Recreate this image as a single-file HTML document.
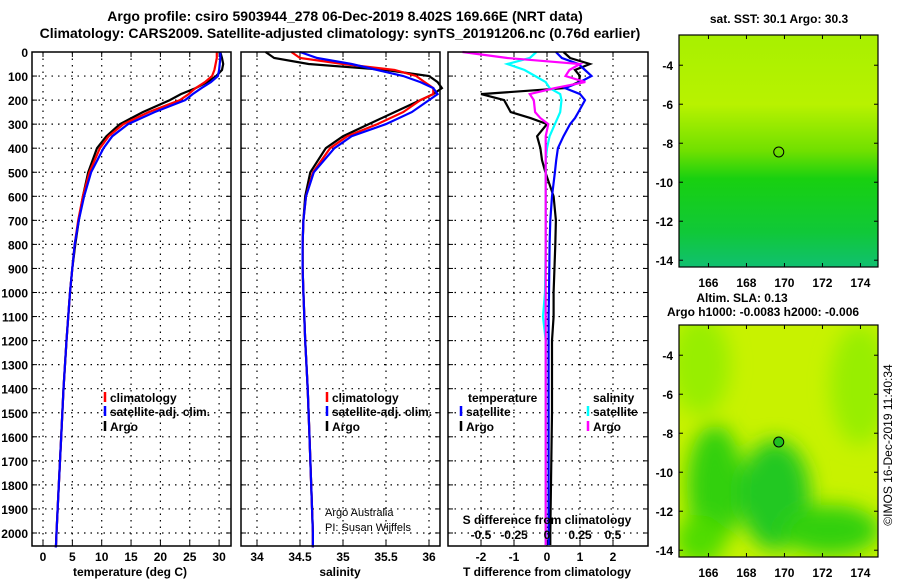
<!DOCTYPE html>
<html><head><meta charset="utf-8">
<style>
body{margin:0;background:#fff;}
svg{display:block;font-family:"Liberation Sans",sans-serif;font-weight:bold;}
</style></head>
<body>
<svg id="chart" width="900" height="580" viewBox="0 0 900 580" xmlns="http://www.w3.org/2000/svg">
<defs>
<linearGradient id="sstgrad" x1="0" y1="0" x2="0" y2="1">
<stop offset="0" stop-color="#a8f000"/><stop offset="0.3" stop-color="#b8f200"/><stop offset="0.5" stop-color="#70e000"/><stop offset="0.62" stop-color="#18d010"/><stop offset="0.85" stop-color="#10c838"/><stop offset="1" stop-color="#10c070"/>
</linearGradient>
<filter id="blur" x="-50%" y="-50%" width="200%" height="200%"><feGaussianBlur stdDeviation="10"/></filter>
<clipPath id="clip2"><rect x="679" y="325" width="199" height="232"/></clipPath>
</defs>
<g id="layer"></g>
</svg>
<script>
const depths=[0,25,50,75,100,125,150,175,200,250,300,350,400,500,600,700,800,900,1000,1200,1400,1600,1800,2000,2060];
const tempClim=[29.6,29.6,29.4,29.2,28.8,27.6,26,24.8,23.3,18,13.7,11.2,9.7,7.9,6.8,6,5.4,5,4.6,4,3.5,3.1,2.7,2.3,2.2];
const tempSat=[30.2,30.2,30.1,30,29.8,28.6,27,25.5,24.2,19,14.5,11.8,10.3,8.2,7,6.1,5.4,5,4.6,4,3.5,3.1,2.7,2.3,2.2];
const tempArgo=[30.2,30.5,30.7,30.5,29.5,28,26,23.5,21.6,17,13.1,10.8,9.2,7.7,6.8,6.1,5.5,5,4.6,4,3.5,3.1,2.7,2.3,2.2];
const salClim=[34.4,34.5,35.0,35.6,35.85,35.95,36.05,36.05,35.9,35.7,35.4,35.05,34.85,34.65,34.57,34.54,34.53,34.53,34.54,34.56,34.59,34.61,34.63,34.65,34.65];
const salSat=[34.5,34.7,35.1,35.4,35.7,35.9,36.05,36.1,36.0,35.8,35.5,35.1,34.9,34.66,34.57,34.54,34.53,34.53,34.54,34.56,34.59,34.61,34.63,34.65,34.65];
const salArgo=[34.1,34.2,34.6,35.5,36.0,36.1,36.15,36.05,35.9,35.6,35.3,35.0,34.8,34.62,34.56,34.54,34.53,34.53,34.54,34.56,34.59,34.61,34.63,34.65,34.65];
const dDepths=[0,25,50,75,100,125,150,175,200,250,275,300,350,400,450,500,600,700,800,1000,1100,1200,1500,2000,2050];
const tDiffArgo=[0.5,0.7,1.3,0.85,1.0,0.95,0.55,-2.0,-1.3,-1.1,-0.5,0,-0.3,-0.2,-0.15,-0.05,0.2,0.27,0.25,0.2,0.2,0.15,0.15,0.1,0.1];
const tDiffSat=[0.27,0.45,0.95,1.15,1.35,1.0,0.55,1.0,1.15,0.95,0.85,0.7,0.5,0.33,0.28,0.24,0.15,0.1,0.08,0.06,0.05,0.05,0.05,0.05,0.05];
const sDiffSat=[-0.08,-0.13,-0.3,-0.17,-0.09,-0.01,0.02,0.1,0.11,0.1,0.08,0.06,0.02,0,-0.01,-0.01,-0.01,-0.01,-0.01,-0.015,-0.03,-0.01,-0.01,-0.01,-0.01];
const sDiffArgo=[-0.64,-0.3,0.25,0.17,0.14,0.29,0.06,-0.13,-0.1,-0.09,-0.05,0.01,-0.01,-0.01,-0.01,-0.01,-0.01,-0.01,-0.01,-0.01,-0.01,-0.01,-0.01,-0.01,-0.01];
const depthTicks=[0,100,200,300,400,500,600,700,800,900,1000,1100,1200,1300,1400,1500,1600,1700,1800,1900,2000];
const tempTicks=[0,5,10,15,20,25,30];
const salTicks=[34,34.5,35,35.5,36];
const tdTicks=[-2,-1,0,1,2];
const sdTicks=[-0.5,-0.25,0,0.25,0.5];
const sdTickLabels=["-0.5","-0.25","0","0.25","0.5"];
const lonTicks=[166,168,170,172,174];
const latTicks=[-4,-6,-8,-10,-12,-14];
const floatLon=169.7, floatLat=-8.45;

const NS="http://www.w3.org/2000/svg";
const L=document.getElementById('layer');
function el(tag,attrs,parent){const e=document.createElementNS(NS,tag);for(const k in attrs)e.setAttribute(k,attrs[k]);(parent||L).appendChild(e);return e;}
function txt(s,x,y,size,anchor,name,parent){const t=el('text',{x:x,y:y,'font-size':size,'text-anchor':anchor||'middle',fill:'#000'},parent);t.textContent=s;


return t;}

const TOP=52,BOT=546;
const yD=d=>TOP+d*0.2405;
const xT=v=>43+v*5.87;
const xS=v=>257+(v-34)*86;
const xTD=v=>547+v*33;
const xSD=v=>547+v*132;

function panel(name){
  const g=el('g',{});
  
  
  return g;
}
function frame(g,x0,x1){el('rect',{x:x0,y:TOP,width:x1-x0,height:BOT-TOP,fill:'none',stroke:'#000','stroke-width':1.5},g);}
function hgrid(g,x0,x1){depthTicks.forEach(d=>{if(d>0){el('line',{x1:x0,x2:x1,y1:yD(d),y2:yD(d),stroke:'#000','stroke-dasharray':'1.5 5','stroke-width':1.2},g);}
el('line',{x1:x0,x2:x0+5,y1:yD(d),y2:yD(d),stroke:'#000'},g);el('line',{x1:x1-5,x2:x1,y1:yD(d),y2:yD(d),stroke:'#000'},g);});}
function vgrid(g,vals,fx){vals.forEach(v=>{el('line',{x1:fx(v),x2:fx(v),y1:TOP,y2:BOT,stroke:'#000','stroke-dasharray':'1.5 5','stroke-width':1.2},g);
el('line',{x1:fx(v),x2:fx(v),y1:BOT-5,y2:BOT,stroke:'#000'},g);el('line',{x1:fx(v),x2:fx(v),y1:TOP,y2:TOP+5,stroke:'#000'},g);});}
function line(g,xs,ds,fx,color,name,w){const p=xs.map((v,i)=>fx(v).toFixed(1)+','+yD(ds[i]).toFixed(1)).join(' ');
const pl=el('polyline',{points:p,fill:'none',stroke:color,'stroke-width':w||2.2},g);

}
function legend(g,x,y,color,label,name){el('line',{x1:x,x2:x,y1:y-10,y2:y,stroke:color,'stroke-width':2.5},g);txt(label,x+5,y,12,'start',name,g);}

txt("Argo profile: csiro 5903944_278 06-Dec-2019 8.402S 169.66E (NRT data)",345,21,14,'middle','title-line-1');
txt("Climatology: CARS2009. Satellite-adjusted climatology: synTS_20191206.nc (0.76d earlier)",340,38,14,'middle','title-line-2');

depthTicks.forEach(d=>txt(String(d),28,yD(d)+5,12,'end','depth-tick-label'));

const g1=panel('temperature-panel');
hgrid(g1,32,231);vgrid(g1,tempTicks,xT);
line(g1,tempArgo,depths,xT,'#000','temp-argo-line');
line(g1,tempClim,depths,xT,'#f00','temp-climatology-line');
line(g1,tempSat,depths,xT,'#00f','temp-satellite-line');
frame(g1,32,231);
tempTicks.forEach(v=>txt(String(v),xT(v),561,12,'middle','temp-tick-label',g1));
txt("temperature (deg C)",130,576,12,'middle','temperature-axis-title',g1);
legend(g1,105,402,'#f00','climatology','legend-climatology');
legend(g1,105,416,'#00f','satellite-adj. clim.','legend-satellite');
legend(g1,105,431,'#000','Argo','legend-argo');

const g2=panel('salinity-panel');
hgrid(g2,241,440);vgrid(g2,salTicks,xS);
line(g2,salArgo,depths,xS,'#000','sal-argo-line');
line(g2,salClim,depths,xS,'#f00','sal-climatology-line');
line(g2,salSat,depths,xS,'#00f','sal-satellite-line');
frame(g2,241,440);
salTicks.forEach(v=>txt(String(v),xS(v),561,12,'middle','sal-tick-label',g2));
txt("salinity",340,576,12,'middle','salinity-axis-title',g2);
legend(g2,327,402,'#f00','climatology','legend-sal-climatology');
legend(g2,327,416,'#00f','satellite-adj. clim.','legend-sal-satellite');
legend(g2,327,431,'#000','Argo','legend-sal-argo');
const a1=txt("Argo Australia",325,516,11,'start','credit-argo-australia',g2);a1.setAttribute('font-weight','normal');
const a2=txt("PI: Susan Wijffels",325,531,11,'start','credit-pi',g2);a2.setAttribute('font-weight','normal');

const g3=panel('difference-panel');
hgrid(g3,448,648);vgrid(g3,tdTicks,xTD);
line(g3,tDiffArgo,dDepths,xTD,'#000','tdiff-argo-line');
line(g3,tDiffSat,dDepths,xTD,'#00f','tdiff-satellite-line');
line(g3,sDiffSat,dDepths,xSD,'#0ff','sdiff-satellite-line');
line(g3,sDiffArgo,dDepths,xSD,'#f0f','sdiff-argo-line');
frame(g3,448,648);
tdTicks.forEach(v=>txt(String(v),xTD(v),561,12,'middle','tdiff-tick-label',g3));
sdTicks.forEach((v,i)=>txt(sdTickLabels[i],xSD(v),539,12,'middle','sdiff-tick-label',g3));
txt("S difference from climatology",547,524,12,'middle','sdiff-axis-title',g3);
txt("T difference from climatology",547,576,12,'middle','tdiff-axis-title',g3);
txt("temperature",468,402,12,'start','legend-temperature-header',g3);
legend(g3,461,416,'#00f','satellite','legend-tdiff-satellite');
legend(g3,461,431,'#000','Argo','legend-tdiff-argo');
txt("salinity",593,402,12,'start','legend-salinity-header',g3);
legend(g3,588,416,'#0ff','satellite','legend-sdiff-satellite');
legend(g3,588,431,'#f0f','Argo','legend-sdiff-argo');

function map(y0,name,fillCircle){
  const g=el('g',{});
  
  
  const X0=679,X1=878,Y1=y0+232;
  const fx=lo=>X0+(lo-164.45)*19;
  const fy=la=>y0+(-2.45-la)*19.5;
  if(!fillCircle){
    el('rect',{x:X0,y:y0,width:X1-X0,height:Y1-y0,fill:'url(#sstgrad)'},g);
  }else{
    el('rect',{x:X0,y:y0,width:X1-X0,height:Y1-y0,fill:'#c8f200'},g);
    const bg=el('g',{'clip-path':'url(#clip2)'},g);
    const bb=el('g',{filter:'url(#blur)'},bg);
    el('ellipse',{cx:700,cy:y0+40,rx:30,ry:50,fill:'#98ee00'},bb);
    el('ellipse',{cx:860,cy:y0+60,rx:30,ry:60,fill:'#98ee00'},bb);
    el('ellipse',{cx:715,cy:y0+160,rx:28,ry:60,fill:'#30d010'},bb);
    el('ellipse',{cx:775,cy:y0+170,rx:35,ry:55,fill:'#20c820'},bb);
    el('ellipse',{cx:830,cy:y0+205,rx:50,ry:25,fill:'#30d010'},bb);
    el('ellipse',{cx:700,cy:y0+215,rx:25,ry:25,fill:'#50dc00'},bb);
  }
  const c=el('circle',{cx:fx(floatLon),cy:fy(floatLat),r:5,fill:fillCircle?'#20c020':'none',stroke:'#000','stroke-width':1},g);
  
  
  el('rect',{x:X0,y:y0,width:X1-X0,height:Y1-y0,fill:'none',stroke:'#000','stroke-width':1.2},g);
  lonTicks.forEach(lo=>{el('line',{x1:fx(lo),x2:fx(lo),y1:Y1-4,y2:Y1,stroke:'#000'},g);el('line',{x1:fx(lo),x2:fx(lo),y1:y0,y2:y0+4,stroke:'#000'},g);
    txt(String(lo),fx(lo),Y1+20,12,'middle','lon-tick-label',g);});
  latTicks.forEach(la=>{el('line',{x1:X0,x2:X0+4,y1:fy(la),y2:fy(la),stroke:'#000'},g);el('line',{x1:X1-4,x2:X1,y1:fy(la),y2:fy(la),stroke:'#000'},g);
    txt(String(la),673,fy(la)+5,12,'end','lat-tick-label',g);});
  return g;
}
txt("sat. SST: 30.1 Argo: 30.3",779,23,12,'middle','sst-map-title');
map(35,'sst-map',false);
txt("Altim. SLA: 0.13",742,302,12,'middle','sla-map-title-1');
txt("Argo h1000: -0.0083 h2000: -0.006",763,316,12,'middle','sla-map-title-2');
map(325,'sla-map',true);

const c=txt("©IMOS 16-Dec-2019 11:40:34",0,0,12,'middle','timestamp-credit');
c.setAttribute('font-weight','normal');
c.setAttribute('transform','translate(892,445) rotate(-90)');
</script>
</body></html>
